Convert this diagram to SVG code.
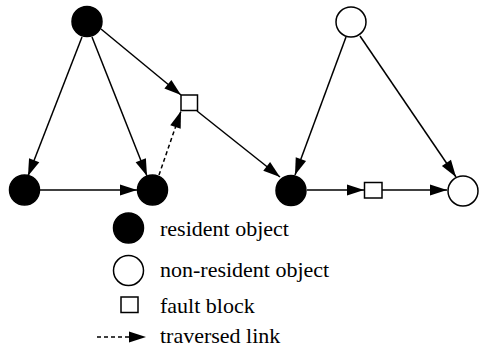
<svg xmlns="http://www.w3.org/2000/svg" width="483" height="356" viewBox="0 0 483 356">
<style>
.res{fill:#000;stroke:#000;stroke-width:1.5}
.non{fill:#fff;stroke:#000;stroke-width:1.5}
.fb{fill:#fff;stroke:#000;stroke-width:1.5}
.e{stroke:#000;stroke-width:1.5;fill:none;marker-end:url(#ah)}
.d{stroke-dasharray:4,3}
</style>
<defs>
<marker id="ah" markerUnits="userSpaceOnUse" markerWidth="18" markerHeight="12" refX="17" refY="5.5" orient="auto" overflow="visible">
<path d="M0,0 L17,5.5 L0,11 z" fill="#000"/>
</marker>
</defs>
<g id="connectors">
<line class="e" x1="82" y1="37" x2="28" y2="176"/>
<line class="e" x1="92" y1="37" x2="147" y2="176"/>
<line class="e" x1="101" y1="29" x2="181" y2="95"/>
<line class="e" x1="40" y1="190" x2="137" y2="190"/>
<line class="e d" x1="159" y1="175" x2="181" y2="111"/>
<line class="e" x1="197" y1="111" x2="280" y2="177"/>
<line class="e" x1="346" y1="37" x2="295" y2="175"/>
<line class="e" x1="360" y1="36" x2="456" y2="177"/>
<line class="e" x1="307" y1="190" x2="364" y2="190"/>
<line class="e" x1="382" y1="190" x2="447" y2="190"/>
</g>
<g id="nodeA"><circle class="res" cx="87" cy="21.5" r="15"/></g>
<g id="nodeB"><circle class="res" cx="24.5" cy="190" r="15"/></g>
<g id="nodeC"><circle class="res" cx="152.5" cy="190" r="15"/></g>
<g id="fault1"><rect class="fb" x="181" y="95" width="16.5" height="15.5"/></g>
<g id="nodeD"><circle class="res" cx="291" cy="190.5" r="15"/></g>
<g id="nodeE"><circle class="non" cx="351" cy="22" r="15"/></g>
<g id="nodeF"><circle class="non" cx="463" cy="191" r="15"/></g>
<g id="fault2"><rect class="fb" x="364.5" y="182.5" width="17.5" height="15.5"/></g>
<g id="legend" font-family="Liberation Serif, DejaVu Serif, serif" font-size="22" fill="#000">
<circle class="res" cx="128.5" cy="228" r="15"/>
<text x="160" y="236">resident object</text>
<circle class="non" cx="128.5" cy="270.5" r="15"/>
<text x="160" y="277">non-resident object</text>
<rect class="fb" x="121" y="297" width="17" height="15.5"/>
<text x="160" y="313">fault block</text>
<line class="e d" x1="97" y1="337" x2="146" y2="337"/>
<text x="160" y="343">traversed link</text>
</g>
</svg>
